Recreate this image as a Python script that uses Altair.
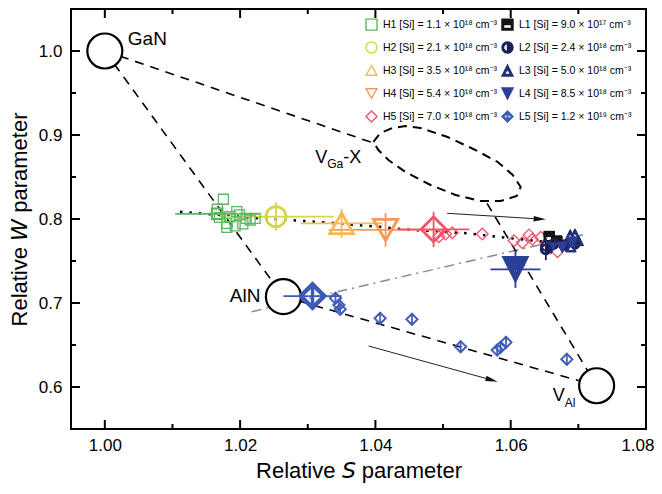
import altair as alt
import pandas as pd

FONT = "Liberation Sans"
PW, PH = 575, 420
MAJ, MIN = 9, 5

# ---------------- series ----------------
keys = ["H1", "H2", "H3", "H4", "H5", "L1", "L2", "L3", "L4", "L5"]
labels = [
    "H1 [Si] = 1.1 × 10¹⁸ cm⁻³", "H2 [Si] = 2.1 × 10¹⁸ cm⁻³",
    "H3 [Si] = 3.5 × 10¹⁸ cm⁻³", "H4 [Si] = 5.4 × 10¹⁸ cm⁻³",
    "H5 [Si] = 7.0 × 10¹⁸ cm⁻³", "L1 [Si] = 9.0 × 10¹⁷ cm⁻³",
    "L2 [Si] = 2.4 × 10¹⁸ cm⁻³", "L3 [Si] = 5.0 × 10¹⁸ cm⁻³",
    "L4 [Si] = 8.5 × 10¹⁸ cm⁻³", "L5 [Si] = 1.2 × 10¹⁹ cm⁻³",
]
colors = ["#5cb860", "#d4d64a", "#f7b955", "#f7985c", "#f0556c",
          "#141414", "#1d205c", "#262e78", "#2b3f96", "#3d5bb8"]
fills = ["transparent", "transparent", "transparent", "transparent", "transparent",
         "#141414", "#1d205c", "#262e78", "#2b3f96", "#3d5bb8"]

SQ_HALF = ("M-1,-1L1,-1L1,1L-1,1Z M-0.72,-0.72L-0.72,0.72L0.72,0.72L0.72,-0.72Z "
           "M-1,-1L1,-1L1,0L-1,0Z")
CI_HALF = ("M0,-1A1,1 0 1,1 0,1A1,1 0 1,1 0,-1Z "
           "M0,-0.72A0.72,0.72 0 1,0 0,0.72A0.72,0.72 0 1,0 0,-0.72Z "
           "M0,-1A1,1 0 0,1 0,1Z")
TU_HALF = "M0,-1L1,1L-1,1Z M0,-0.4L-0.55,0.7L0.55,0.7Z M0,-1L0.5,0L-0.5,0Z"
TD_HALF = "M-1,-1L1,-1L0,1Z M-0.55,-0.7L0,0.4L0.55,-0.7Z M-1,-1L1,-1L0.5,0L-0.5,0Z"
DI_LINE = ("M0,-1L1,0L0,1L-1,0Z M0,-0.7L-0.7,0L0,0.7L0.7,0Z "
           "M-0.07,-0.9L0.07,-0.9L0.07,0.9L-0.07,0.9Z")
shapes = ["square", "circle", "triangle-up", "triangle-down", "diamond",
          SQ_HALF, CI_HALF, TU_HALF, TD_HALF, DI_LINE]
lab = dict(zip(keys, labels))
col = dict(zip(keys, colors))

# ---------------- data values ----------------
h1_s = [1.01753, 1.01664, 1.01693, 1.01803, 1.01852, 1.01951, 1.01990,
        1.01926, 1.02040, 1.02089, 1.02148, 1.02222, 1.01803]
h1_w = [0.8235, 0.8116, 0.8020, 0.7949, 0.8027, 0.8087, 0.8048,
        0.7917, 0.7941, 0.8008, 0.7988, 0.8008, 0.7901]
h5_s = [1.04938, 1.05037, 1.05136, 1.05580, 1.06049, 1.06173, 1.06271,
        1.06321, 1.06444, 1.06692]
h5_w = [0.7790, 0.7821, 0.7837, 0.7821, 0.7742, 0.7718, 0.7810,
        0.7758, 0.7782, 0.7611]
l1_s = [1.0657, 1.0668]
l1_w = [0.7790, 0.7735]
l2_s = [1.0652, 1.0664, 1.0680, 1.0695]
l2_w = [0.7680, 0.7705, 0.7690, 0.7705]
l3_s = [1.0688, 1.0695, 1.0689, 1.0700]
l3_w = [0.7810, 0.7820, 0.7670, 0.7745]
l4_s = [1.0660, 1.0676, 1.0690]
l4_w = [0.7650, 0.7660, 0.7720]
l5_s = [1.0341, 1.0346, 1.0348, 1.0407, 1.0454, 1.0526, 1.0580, 1.0585,
        1.0593, 1.0683]
l5_w = [0.7056, 0.6976, 0.6925, 0.6818, 0.6806, 0.6480, 0.6440, 0.6472,
        0.6532, 0.6330]

# representative (large) points with error bars
big_key = ["H1", "H2", "H3", "H4", "H5", "L4", "L5", "L2"]
big_s = [1.0166, 1.0253, 1.0350, 1.0415, 1.0486, 1.0607, 1.0307, 1.0652]
big_w = [0.8060, 0.8028, 0.7948, 0.7870, 0.7877, 0.7400, 0.7083, 0.7640]
big_xerr = [0.0062, 0.0085, 0.0060, 0.0084, 0.0053, 0.0037, 0.0043, 0.0]
big_yerr = [0.0, 0.0167, 0.0170, 0.0200, 0.0210, 0.0220, 0.0160, 0.0130]
big_size = [110, 400, 560, 600, 625, 650, 760, 120]
big_sw = [2.2, 2.8, 2.8, 2.8, 2.8, 1.5, 1.5, 1.2]

# reference states
ref_name = ["GaN", "AlN", "VAl"]
ref_s = [1.0000, 1.0264, 1.0727]
ref_w = [1.0000, 0.7075, 0.6015]
vgax_s = [1.0397, 1.0565]          # ends of V_Ga-X connecting lines
vgax_w = [0.8905, 0.8187]

ell_s = [1.03970, 1.04074, 1.04252, 1.04444, 1.04667, 1.05067, 1.05481,
         1.05807, 1.06030, 1.06148, 1.06089, 1.05852, 1.05556, 1.05185,
         1.04815, 1.04444, 1.04193, 1.04044, 1.03970]
ell_w = [0.8917, 0.9024, 0.9083, 0.9107, 0.9083, 0.8976, 0.8821, 0.8679,
         0.8524, 0.8381, 0.8274, 0.8214, 0.8214, 0.8286, 0.8405, 0.8560,
         0.8702, 0.8821, 0.8917]

dot_s = [1.0111, 1.0230, 1.0274, 1.0343, 1.0403, 1.0442, 1.0536, 1.0600, 1.0649]
dot_w = [0.8087, 0.8008, 0.7988, 0.7949, 0.7908, 0.7877, 0.7830, 0.7770, 0.7730]

dd_s = [1.0217, 1.0711]
dd_w = [0.6896, 0.7821]

arr_s0 = [1.0506, 1.0390]
arr_w0 = [0.8068, 0.6488]
arr_s1 = [1.0643, 1.0572]
arr_w1 = [0.8000, 0.6083]
arr_ang = [3.5, 15.5]

x_major = [1.00, 1.02, 1.04, 1.06, 1.08]
x_minor = [1.01, 1.03, 1.05, 1.07]
y_major = [0.6, 0.7, 0.8, 0.9, 1.0]
y_minor = [0.55, 0.65, 0.75, 0.85, 0.95]

# ---------------- tables ----------------
rows = []
def add(key, ss, ww, size, sw):
    for s, w in zip(ss, ww):
        rows.append(dict(series=lab[key], S=s, W=w, sz=size, sw=sw))
add("H1", h1_s, h1_w, 100, 1.3)
add("H5", h5_s, h5_w, 137, 1.3)
add("L1", l1_s, l1_w, 110, 1.0)
add("L2", l2_s, l2_w, 110, 1.0)
add("L3", l3_s, l3_w, 110, 1.0)
add("L4", l4_s, l4_w, 110, 1.0)
add("L5", l5_s, l5_w, 170, 0.8)
for k, s, w, sz, sw in zip(big_key, big_s, big_w, big_size, big_sw):
    rows.append(dict(series=lab[k], S=s, W=w, sz=sz, sw=sw))
pts = pd.DataFrame(rows)

eb = pd.DataFrame(dict(key=big_key, S=big_s, W=big_w, xe=big_xerr, ye=big_yerr))
eb["col"] = eb["key"].map(col)
ebx = eb[eb.xe > 0].assign(S0=lambda d: d.S - d.xe, S1=lambda d: d.S + d.xe)
eby = eb[eb.ye > 0].assign(W0=lambda d: d.W - d.ye, W1=lambda d: d.W + d.ye)

ref = pd.DataFrame(dict(name=ref_name, S=ref_s, W=ref_w))
dash_rows = []
segs = [((ref_s[0], ref_w[0]), (ref_s[1], ref_w[1])),
        ((ref_s[0], ref_w[0]), (vgax_s[0], vgax_w[0])),
        ((vgax_s[1], vgax_w[1]), (ref_s[2], ref_w[2])),
        ((ref_s[1], ref_w[1]), (ref_s[2], ref_w[2]))]
for i, (a, b) in enumerate(segs):
    dash_rows.append(dict(seg=i, o=0, S=a[0], W=a[1]))
    dash_rows.append(dict(seg=i, o=1, S=b[0], W=b[1]))
dash = pd.DataFrame(dash_rows)
ell = pd.DataFrame(dict(S=ell_s, W=ell_w, o=range(len(ell_s))))
dot = pd.DataFrame(dict(S=dot_s, W=dot_w, o=range(len(dot_s))))
dd = pd.DataFrame(dict(S=dd_s, W=dd_w, o=range(len(dd_s))))
arr = pd.DataFrame(dict(S=arr_s0, W=arr_w0, S1=arr_s1, W1=arr_w1, ang=arr_ang))

# ---------------- encodings ----------------
xscale = alt.Scale(domain=[0.995, 1.08], nice=False, zero=False)
yscale = alt.Scale(domain=[0.55, 1.05], nice=False, zero=False)
xaxis = alt.Axis(values=x_major, format=".2f", ticks=False, domain=False, grid=False,
                 labelFlush=5, labelFlushOffset=8, labelPadding=8,
                 title="Relative 𝘚 parameter", titlePadding=7)
yaxis = alt.Axis(values=y_major, format=".1f", ticks=False, domain=False, grid=False,
                 labelFlush=False, labelPadding=9, title="Relative 𝘞 parameter",
                 titlePadding=7)

def X(f="S"):
    return alt.X(f"{f}:Q", scale=xscale, axis=xaxis)

def Y(f="W"):
    return alt.Y(f"{f}:Q", scale=yscale, axis=yaxis)

legend = alt.Legend(title=None, orient="none", legendX=294, legendY=9, columns=2,
                    symbolSize=121, symbolStrokeWidth=1.4, labelFont=FONT,
                    labelFontSize=10.5, labelOffset=5, columnPadding=1, rowPadding=6,
                    padding=0, labelLimit=400)

layers = []
layers.append(alt.Chart(dd).mark_line(color="#8a8a8a", strokeWidth=1.5,
                                      strokeDash=[10, 5, 2, 5]).encode(
    x=X(), y=Y(), order="o:Q"))
layers.append(alt.Chart(dot).mark_line(color="black", strokeWidth=2.5,
                                       strokeDash=[2.5, 7]).encode(
    x=X(), y=Y(), order="o:Q"))
layers.append(alt.Chart(arr).mark_rule(color="#222222", strokeWidth=1).encode(
    x=X(), y=Y(), x2="S1:Q", y2="W1:Q"))
layers.append(alt.Chart(dash).mark_line(color="black", strokeWidth=1.6,
                                        strokeDash=[9, 7]).encode(
    x=X(), y=Y(), detail="seg:N", order="o:Q"))
layers.append(alt.Chart(ell).mark_line(color="black", strokeWidth=2,
                                       strokeDash=[9, 6]).encode(
    x=X(), y=Y(), order="o:Q"))
layers.append(alt.Chart(ref).mark_point(shape="circle", size=1225, fill="white",
                                        filled=True, stroke="black", strokeWidth=2.2,
                                        opacity=1).encode(x=X(), y=Y()))
layers.append(alt.Chart(ebx).mark_rule(strokeWidth=1.8).encode(
    x=X("S0"), x2="S1:Q", y=Y(), stroke=alt.Stroke("col:N", scale=None)))
layers.append(alt.Chart(eby).mark_rule(strokeWidth=1.8).encode(
    y=Y("W0"), y2="W1:Q", x=X(), stroke=alt.Stroke("col:N", scale=None)))
layers.append(alt.Chart(pts).mark_point(opacity=1).encode(
    x=X(), y=Y(),
    shape=alt.Shape("series:N", scale=alt.Scale(domain=labels, range=shapes), legend=legend),
    stroke=alt.Stroke("series:N", scale=alt.Scale(domain=labels, range=colors), legend=legend),
    fill=alt.Fill("series:N", scale=alt.Scale(domain=labels, range=fills), legend=legend),
    size=alt.Size("sz:Q", scale=None),
    strokeWidth=alt.StrokeWidth("sw:Q", scale=None),
))
layers.append(alt.Chart(arr).mark_point(shape="M1,0L-1,-0.45L-1,0.45Z", size=150,
                                        filled=True, color="#111111", opacity=1).encode(
    x=X("S1"), y=Y("W1"), angle=alt.Angle("ang:Q", scale=None)))

def txt(s, w, t, size, dx=0, dy=0, align="left"):
    d = pd.DataFrame(dict(S=[s], W=[w], t=[t]))
    return alt.Chart(d).mark_text(font=FONT, fontSize=size, align=align,
                                  baseline="alphabetic", dx=dx, dy=dy,
                                  color="black").encode(x=X(), y=Y(), text="t:N")

layers += [
    txt(1.0034, 1.0071, "GaN", 19),
    txt(1.0230, 0.7016, "AlN", 19, align="right"),
    txt(1.0311, 0.8663, "V", 18),
    txt(1.0311, 0.8663, "Ga", 12, dx=12, dy=5),
    txt(1.0311, 0.8663, "-X", 18, dx=28),
    txt(1.0662, 0.5833, "V", 18),
    txt(1.0662, 0.5833, "Al", 12, dx=12, dy=6),
]

def tick_layer(vals, axis, length):
    d = pd.DataFrame(dict(v=vals))
    m = alt.Chart(d).mark_rule(color="black", strokeWidth=2)
    if axis == "bottom":
        return m.encode(x=X("v"), y=alt.value(PH), y2=alt.value(PH - length))
    if axis == "top":
        return m.encode(x=X("v"), y=alt.value(0), y2=alt.value(length))
    if axis == "left":
        return m.encode(y=Y("v"), x=alt.value(0), x2=alt.value(length))
    return m.encode(y=Y("v"), x=alt.value(PW), x2=alt.value(PW - length))

for side in ["bottom", "top"]:
    layers.append(tick_layer(x_major, side, MAJ))
    layers.append(tick_layer(x_minor, side, MIN))
for side in ["left", "right"]:
    layers.append(tick_layer(y_major, side, MAJ))
    layers.append(tick_layer(y_minor, side, MIN))

chart = alt.layer(*layers).properties(
    width=PW, height=PH,
    autosize=alt.AutoSizeParams(type="none"),
    padding={"left": 63, "top": 1, "right": 8, "bottom": 57},
    background="white",
).configure_view(stroke="black", strokeWidth=2).configure_axis(
    labelFont=FONT, titleFont=FONT, labelFontSize=17, titleFontSize=22,
    labelColor="black", titleColor="black", titleFontWeight="normal",
)

chart.save("out.html", embed_options={"renderer": "svg", "actions": False})
